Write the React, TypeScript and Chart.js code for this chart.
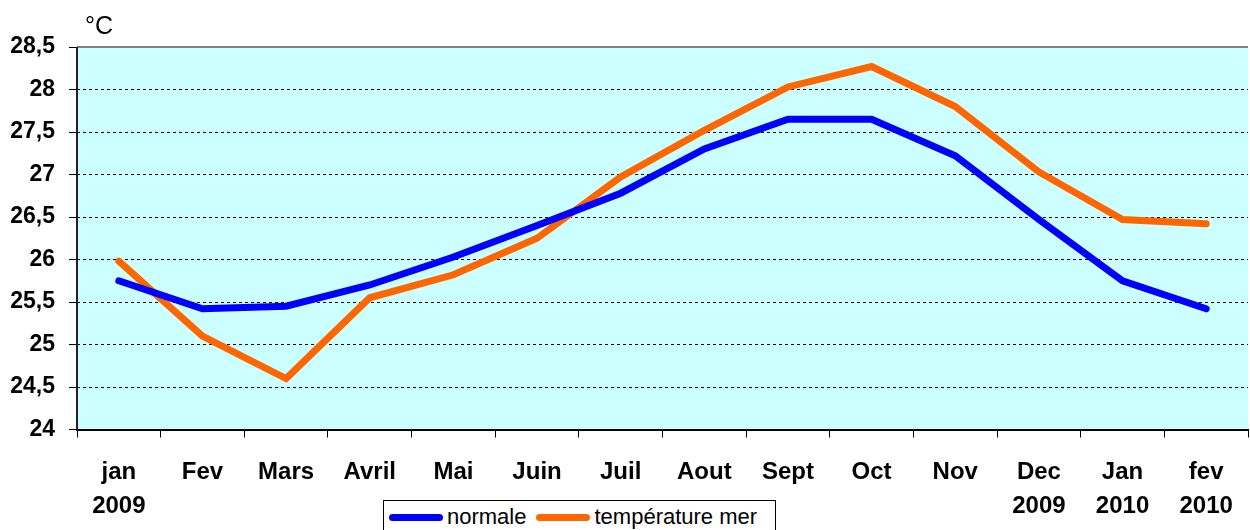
import React, { useEffect, useRef } from "react";
import { Chart, registerables } from "chart.js";

Chart.register(...registerables);

const categories: (string | string[])[] = [
  ["jan", "2009"], "Fev", "Mars", "Avril", "Mai", "Juin", "Juil", "Aout", "Sept", "Oct", "Nov",
  ["Dec", "2009"], ["Jan", "2010"], ["fev", "2010"],
];
const normale = [25.75, 25.42, 25.45, 25.7, 26.03, 26.4, 26.78, 27.3, 27.65, 27.65, 27.22, 26.47, 25.75, 25.42];
const temperatureMer = [25.98, 25.1, 24.6, 25.55, 25.82, 26.25, 26.97, 27.52, 28.03, 28.27, 27.8, 27.03, 26.47, 26.42];
const yMin = 24;
const yMax = 28.5;
const yStep = 0.5;

const FONT = "'Liberation Sans Narrow', 'Arial Narrow', 'Liberation Sans', Arial, sans-serif";

const bgPlugin = {
  id: "bgPlugin",
  beforeDraw(chart: any) {
    const { ctx, chartArea } = chart;
    ctx.save();
    ctx.fillStyle = "#CCFFFF";
    ctx.fillRect(chartArea.left, chartArea.top, chartArea.right - chartArea.left, chartArea.bottom - chartArea.top);
    ctx.restore();
  },
  afterDraw(chart: any) {
    const { ctx, chartArea } = chart;
    ctx.save();
    ctx.setLineDash([]);
    ctx.strokeStyle = "#808080";
    ctx.lineWidth = 2;
    ctx.beginPath();
    ctx.moveTo(chartArea.left, chartArea.top);
    ctx.lineTo(chartArea.right, chartArea.top);
    ctx.stroke();
    ctx.strokeStyle = "#222222";
    ctx.lineWidth = 2;
    ctx.beginPath();
    ctx.moveTo(chartArea.left, chartArea.top);
    ctx.lineTo(chartArea.left, chartArea.bottom + 1);
    ctx.stroke();
    ctx.restore();
  },
};

export default function App() {
  const ref = useRef<HTMLCanvasElement>(null);
  useEffect(() => {
    if (!ref.current) return;
    const chart = new Chart(ref.current, {
      type: "line",
      data: {
        labels: categories,
        datasets: [
          {
            label: "normale",
            data: normale,
            borderColor: "#0000FF",
            backgroundColor: "#0000FF",
            borderWidth: 7,
            pointRadius: 0,
            tension: 0,
            borderCapStyle: "round",
          },
          {
            label: "température mer",
            data: temperatureMer,
            borderColor: "#FF6600",
            backgroundColor: "#FF6600",
            borderWidth: 7,
            pointRadius: 0,
            tension: 0,
            borderCapStyle: "round",
          },
        ],
      },
      options: {
        animation: false,
        responsive: false,
        maintainAspectRatio: false,
        layout: { padding: { top: 47, right: 2, left: 0, bottom: 0 } },
        plugins: { legend: { display: false }, tooltip: { enabled: false } },
        scales: {
          x: {
            offset: true,
            grid: {
              offset: true,
              drawOnChartArea: false,
              tickLength: 8,
              tickColor: "#000000",
              tickWidth: 1,
            },
            border: { color: "#000000", width: 2 },
            ticks: {
              color: "#000000",
              padding: 17,
              maxRotation: 0,
              autoSkip: false,
              font: { family: FONT, size: 24, weight: "bold", lineHeight: 1.45 },
            },
            afterFit(scale: any) {
              scale.height = 100.5;
            },
          },
          y: {
            min: yMin,
            max: yMax,
            grid: {
              color: (c: any) => (c.tick && (c.tick.value === yMax || c.tick.value === yMin) ? "rgba(0,0,0,0)" : "#000000"),
              tickBorderDash: [],
              tickColor: "#000000",
              tickLength: 8,
              lineWidth: 1,
            },
            border: { display: false, color: "#333333", width: 2, dash: [3, 3] },
            ticks: {
              stepSize: yStep,
              color: "#000000",
              padding: 14,
              font: { family: FONT, size: 23, weight: "bold" },
              callback: (v: any) => String(v).replace(".", ","),
            },
            afterFit(scale: any) {
              scale.width = 77;
            },
          },
        },
      },
      plugins: [bgPlugin],
    } as any);
    return () => chart.destroy();
  }, []);

  return (
    <div style={{ position: "fixed", left: 0, top: 0, width: 1250, height: 530, background: "#fff", overflow: "hidden" }}>
      <canvas ref={ref} width={1250} height={530} style={{ position: "absolute", left: 0, top: 0 }} />
      <div
        style={{
          position: "absolute",
          left: 85,
          top: 10,
          fontFamily: "'Liberation Sans', Arial, sans-serif",
          fontSize: 25,
          lineHeight: "30px",
          color: "#000",
        }}
      >
        °C
      </div>
      <div
        style={{
          position: "absolute",
          left: 383,
          top: 500,
          width: 393,
          height: 40,
          border: "1px solid #000",
          background: "#fff",
          boxSizing: "border-box",
          fontFamily: "'Liberation Sans', Arial, sans-serif",
          fontSize: 22,
          lineHeight: "26px",
          color: "#000",
          display: "flex",
          alignItems: "flex-start",
          paddingTop: 3,
          paddingLeft: 5,
          whiteSpace: "nowrap",
        }}
      >
        <span style={{ display: "inline-block", width: 54, height: 7, borderRadius: 4, background: "#0000FF", marginTop: 10, marginRight: 4 }} />
        <span>normale</span>
        <span style={{ display: "inline-block", width: 54, height: 7, borderRadius: 4, background: "#FF6600", marginTop: 10, marginLeft: 10, marginRight: 4 }} />
        <span>température mer</span>
      </div>
    </div>
  );
}
